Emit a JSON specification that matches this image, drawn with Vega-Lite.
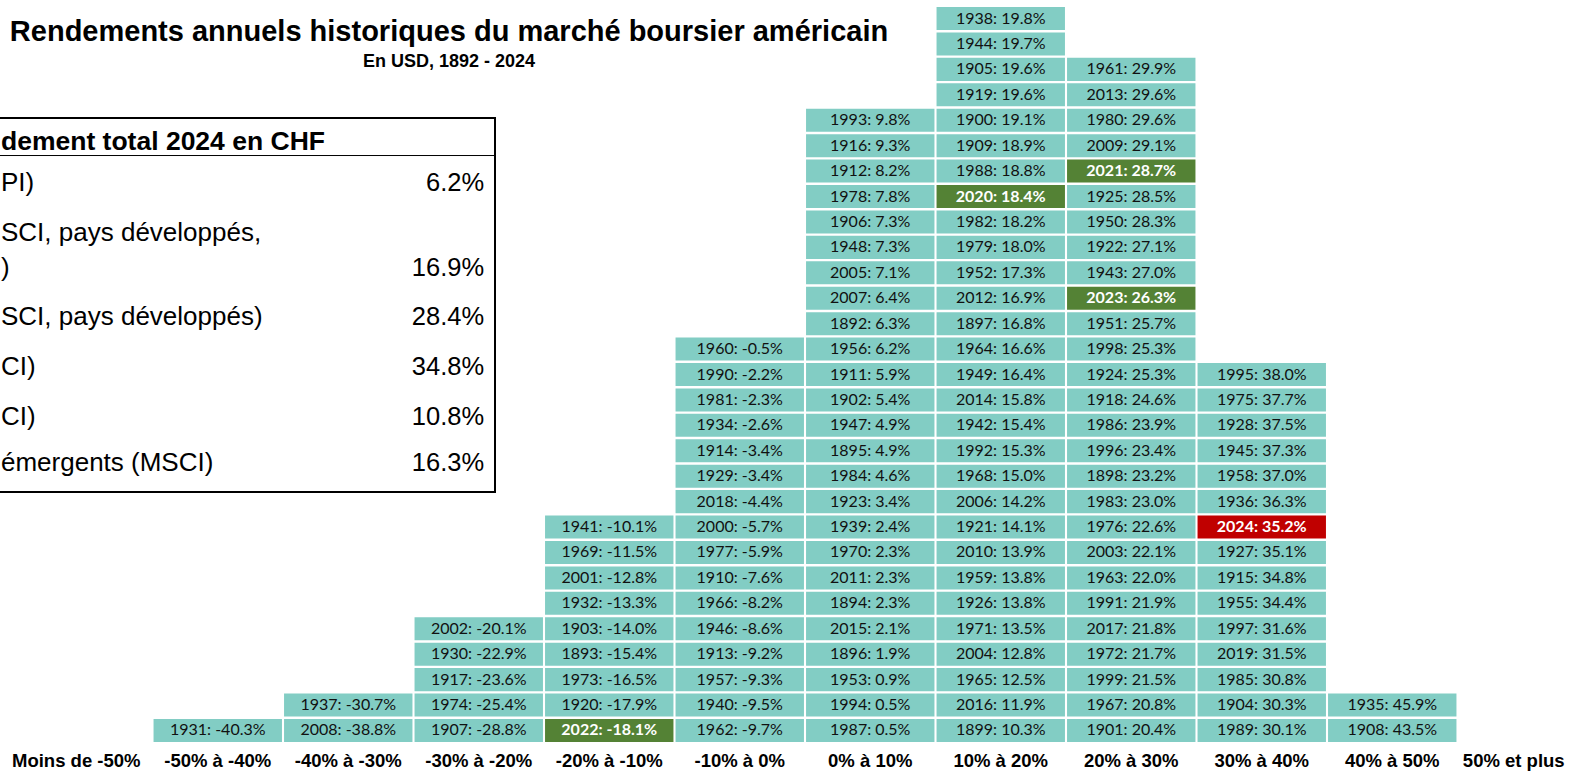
{
  "$schema": "https://vega.github.io/schema/vega-lite/v6.json",
  "width": 1572,
  "height": 771,
  "padding": 0,
  "autosize": "none",
  "background": "white",
  "config": {"view": {"stroke": null}},
  "title": {
    "text": "Rendements annuels historiques du marché boursier américain",
    "subtitle": "En USD, 1892 - 2024",
    "anchor": "middle",
    "frame": "group",
    "dx": -337,
    "offset": -71,
    "font": "Liberation Sans",
    "fontSize": 29,
    "fontWeight": "bold",
    "color": "#000000",
    "subtitleFont": "Liberation Sans",
    "subtitleFontSize": 18,
    "subtitleFontWeight": "bold",
    "subtitleColor": "#000000",
    "subtitlePadding": 6
  },
  "layer": [
    {
      "data": {
        "values": [
          {"annee": 1931, "rendement": -40.3, "classe": "-50% à -40%"},
          {"annee": 2008, "rendement": -38.8, "classe": "-40% à -30%"},
          {"annee": 1937, "rendement": -30.7, "classe": "-40% à -30%"},
          {"annee": 1907, "rendement": -28.8, "classe": "-30% à -20%"},
          {"annee": 1974, "rendement": -25.4, "classe": "-30% à -20%"},
          {"annee": 1917, "rendement": -23.6, "classe": "-30% à -20%"},
          {"annee": 1930, "rendement": -22.9, "classe": "-30% à -20%"},
          {"annee": 2002, "rendement": -20.1, "classe": "-30% à -20%"},
          {"annee": 2022, "rendement": -18.1, "classe": "-20% à -10%"},
          {"annee": 1920, "rendement": -17.9, "classe": "-20% à -10%"},
          {"annee": 1973, "rendement": -16.5, "classe": "-20% à -10%"},
          {"annee": 1893, "rendement": -15.4, "classe": "-20% à -10%"},
          {"annee": 1903, "rendement": -14.0, "classe": "-20% à -10%"},
          {"annee": 1932, "rendement": -13.3, "classe": "-20% à -10%"},
          {"annee": 2001, "rendement": -12.8, "classe": "-20% à -10%"},
          {"annee": 1969, "rendement": -11.5, "classe": "-20% à -10%"},
          {"annee": 1941, "rendement": -10.1, "classe": "-20% à -10%"},
          {"annee": 1962, "rendement": -9.7, "classe": "-10% à 0%"},
          {"annee": 1940, "rendement": -9.5, "classe": "-10% à 0%"},
          {"annee": 1957, "rendement": -9.3, "classe": "-10% à 0%"},
          {"annee": 1913, "rendement": -9.2, "classe": "-10% à 0%"},
          {"annee": 1946, "rendement": -8.6, "classe": "-10% à 0%"},
          {"annee": 1966, "rendement": -8.2, "classe": "-10% à 0%"},
          {"annee": 1910, "rendement": -7.6, "classe": "-10% à 0%"},
          {"annee": 1977, "rendement": -5.9, "classe": "-10% à 0%"},
          {"annee": 2000, "rendement": -5.7, "classe": "-10% à 0%"},
          {"annee": 2018, "rendement": -4.4, "classe": "-10% à 0%"},
          {"annee": 1929, "rendement": -3.4, "classe": "-10% à 0%"},
          {"annee": 1914, "rendement": -3.4, "classe": "-10% à 0%"},
          {"annee": 1934, "rendement": -2.6, "classe": "-10% à 0%"},
          {"annee": 1981, "rendement": -2.3, "classe": "-10% à 0%"},
          {"annee": 1990, "rendement": -2.2, "classe": "-10% à 0%"},
          {"annee": 1960, "rendement": -0.5, "classe": "-10% à 0%"},
          {"annee": 1987, "rendement": 0.5, "classe": "0% à 10%"},
          {"annee": 1994, "rendement": 0.5, "classe": "0% à 10%"},
          {"annee": 1953, "rendement": 0.9, "classe": "0% à 10%"},
          {"annee": 1896, "rendement": 1.9, "classe": "0% à 10%"},
          {"annee": 2015, "rendement": 2.1, "classe": "0% à 10%"},
          {"annee": 1894, "rendement": 2.3, "classe": "0% à 10%"},
          {"annee": 2011, "rendement": 2.3, "classe": "0% à 10%"},
          {"annee": 1970, "rendement": 2.3, "classe": "0% à 10%"},
          {"annee": 1939, "rendement": 2.4, "classe": "0% à 10%"},
          {"annee": 1923, "rendement": 3.4, "classe": "0% à 10%"},
          {"annee": 1984, "rendement": 4.6, "classe": "0% à 10%"},
          {"annee": 1895, "rendement": 4.9, "classe": "0% à 10%"},
          {"annee": 1947, "rendement": 4.9, "classe": "0% à 10%"},
          {"annee": 1902, "rendement": 5.4, "classe": "0% à 10%"},
          {"annee": 1911, "rendement": 5.9, "classe": "0% à 10%"},
          {"annee": 1956, "rendement": 6.2, "classe": "0% à 10%"},
          {"annee": 1892, "rendement": 6.3, "classe": "0% à 10%"},
          {"annee": 2007, "rendement": 6.4, "classe": "0% à 10%"},
          {"annee": 2005, "rendement": 7.1, "classe": "0% à 10%"},
          {"annee": 1948, "rendement": 7.3, "classe": "0% à 10%"},
          {"annee": 1906, "rendement": 7.3, "classe": "0% à 10%"},
          {"annee": 1978, "rendement": 7.8, "classe": "0% à 10%"},
          {"annee": 1912, "rendement": 8.2, "classe": "0% à 10%"},
          {"annee": 1916, "rendement": 9.3, "classe": "0% à 10%"},
          {"annee": 1993, "rendement": 9.8, "classe": "0% à 10%"},
          {"annee": 1899, "rendement": 10.3, "classe": "10% à 20%"},
          {"annee": 2016, "rendement": 11.9, "classe": "10% à 20%"},
          {"annee": 1965, "rendement": 12.5, "classe": "10% à 20%"},
          {"annee": 2004, "rendement": 12.8, "classe": "10% à 20%"},
          {"annee": 1971, "rendement": 13.5, "classe": "10% à 20%"},
          {"annee": 1926, "rendement": 13.8, "classe": "10% à 20%"},
          {"annee": 1959, "rendement": 13.8, "classe": "10% à 20%"},
          {"annee": 2010, "rendement": 13.9, "classe": "10% à 20%"},
          {"annee": 1921, "rendement": 14.1, "classe": "10% à 20%"},
          {"annee": 2006, "rendement": 14.2, "classe": "10% à 20%"},
          {"annee": 1968, "rendement": 15.0, "classe": "10% à 20%"},
          {"annee": 1992, "rendement": 15.3, "classe": "10% à 20%"},
          {"annee": 1942, "rendement": 15.4, "classe": "10% à 20%"},
          {"annee": 2014, "rendement": 15.8, "classe": "10% à 20%"},
          {"annee": 1949, "rendement": 16.4, "classe": "10% à 20%"},
          {"annee": 1964, "rendement": 16.6, "classe": "10% à 20%"},
          {"annee": 1897, "rendement": 16.8, "classe": "10% à 20%"},
          {"annee": 2012, "rendement": 16.9, "classe": "10% à 20%"},
          {"annee": 1952, "rendement": 17.3, "classe": "10% à 20%"},
          {"annee": 1979, "rendement": 18.0, "classe": "10% à 20%"},
          {"annee": 1982, "rendement": 18.2, "classe": "10% à 20%"},
          {"annee": 2020, "rendement": 18.4, "classe": "10% à 20%"},
          {"annee": 1988, "rendement": 18.8, "classe": "10% à 20%"},
          {"annee": 1909, "rendement": 18.9, "classe": "10% à 20%"},
          {"annee": 1900, "rendement": 19.1, "classe": "10% à 20%"},
          {"annee": 1919, "rendement": 19.6, "classe": "10% à 20%"},
          {"annee": 1905, "rendement": 19.6, "classe": "10% à 20%"},
          {"annee": 1944, "rendement": 19.7, "classe": "10% à 20%"},
          {"annee": 1938, "rendement": 19.8, "classe": "10% à 20%"},
          {"annee": 1901, "rendement": 20.4, "classe": "20% à 30%"},
          {"annee": 1967, "rendement": 20.8, "classe": "20% à 30%"},
          {"annee": 1999, "rendement": 21.5, "classe": "20% à 30%"},
          {"annee": 1972, "rendement": 21.7, "classe": "20% à 30%"},
          {"annee": 2017, "rendement": 21.8, "classe": "20% à 30%"},
          {"annee": 1991, "rendement": 21.9, "classe": "20% à 30%"},
          {"annee": 1963, "rendement": 22.0, "classe": "20% à 30%"},
          {"annee": 2003, "rendement": 22.1, "classe": "20% à 30%"},
          {"annee": 1976, "rendement": 22.6, "classe": "20% à 30%"},
          {"annee": 1983, "rendement": 23.0, "classe": "20% à 30%"},
          {"annee": 1898, "rendement": 23.2, "classe": "20% à 30%"},
          {"annee": 1996, "rendement": 23.4, "classe": "20% à 30%"},
          {"annee": 1986, "rendement": 23.9, "classe": "20% à 30%"},
          {"annee": 1918, "rendement": 24.6, "classe": "20% à 30%"},
          {"annee": 1924, "rendement": 25.3, "classe": "20% à 30%"},
          {"annee": 1998, "rendement": 25.3, "classe": "20% à 30%"},
          {"annee": 1951, "rendement": 25.7, "classe": "20% à 30%"},
          {"annee": 2023, "rendement": 26.3, "classe": "20% à 30%"},
          {"annee": 1943, "rendement": 27.0, "classe": "20% à 30%"},
          {"annee": 1922, "rendement": 27.1, "classe": "20% à 30%"},
          {"annee": 1950, "rendement": 28.3, "classe": "20% à 30%"},
          {"annee": 1925, "rendement": 28.5, "classe": "20% à 30%"},
          {"annee": 2021, "rendement": 28.7, "classe": "20% à 30%"},
          {"annee": 2009, "rendement": 29.1, "classe": "20% à 30%"},
          {"annee": 1980, "rendement": 29.6, "classe": "20% à 30%"},
          {"annee": 2013, "rendement": 29.6, "classe": "20% à 30%"},
          {"annee": 1961, "rendement": 29.9, "classe": "20% à 30%"},
          {"annee": 1989, "rendement": 30.1, "classe": "30% à 40%"},
          {"annee": 1904, "rendement": 30.3, "classe": "30% à 40%"},
          {"annee": 1985, "rendement": 30.8, "classe": "30% à 40%"},
          {"annee": 2019, "rendement": 31.5, "classe": "30% à 40%"},
          {"annee": 1997, "rendement": 31.6, "classe": "30% à 40%"},
          {"annee": 1955, "rendement": 34.4, "classe": "30% à 40%"},
          {"annee": 1915, "rendement": 34.8, "classe": "30% à 40%"},
          {"annee": 1927, "rendement": 35.1, "classe": "30% à 40%"},
          {"annee": 2024, "rendement": 35.2, "classe": "30% à 40%"},
          {"annee": 1936, "rendement": 36.3, "classe": "30% à 40%"},
          {"annee": 1958, "rendement": 37.0, "classe": "30% à 40%"},
          {"annee": 1945, "rendement": 37.3, "classe": "30% à 40%"},
          {"annee": 1928, "rendement": 37.5, "classe": "30% à 40%"},
          {"annee": 1975, "rendement": 37.7, "classe": "30% à 40%"},
          {"annee": 1995, "rendement": 38.0, "classe": "30% à 40%"},
          {"annee": 1908, "rendement": 43.5, "classe": "40% à 50%"},
          {"annee": 1935, "rendement": 45.9, "classe": "40% à 50%"}
        ]
      },
      "transform": [
        {
          "window": [{"op": "row_number", "as": "rang"}],
          "groupby": ["classe"],
          "sort": [{"field": "rendement", "order": "ascending"}]
        }
      ],
      "encoding": {
        "x": {
          "field": "classe",
          "type": "nominal",
          "scale": {
            "domain": ["Moins de -50%", "-50% à -40%", "-40% à -30%", "-30% à -20%", "-20% à -10%", "-10% à 0%", "0% à 10%", "10% à 20%", "20% à 30%", "30% à 40%", "40% à 50%", "50% et plus"],
            "range": [22, 1588],
            "paddingInner": 0.016,
            "paddingOuter": 0.008
          },
          "axis": {
            "title": null,
            "domain": false,
            "ticks": false,
            "offset": -26,
            "labelAngle": 0,
            "labelOverlap": false,
            "labelFont": "Liberation Sans",
            "labelFontSize": 18.5,
            "labelFontWeight": "bold",
            "labelColor": "#000000",
            "labelBaseline": "alphabetic",
            "labelPadding": 21,
            "labelOffset": {
              "condition": [
                {"test": "datum.value === 'Moins de -50%'", "value": -11},
                {"test": "datum.value === '50% et plus'", "value": -9}
              ],
              "value": 0
            }
          }
        },
        "y": {
          "field": "rang",
          "type": "ordinal",
          "scale": {
            "domain": [1, 2, 3, 4, 5, 6, 7, 8, 9, 10, 11, 12, 13, 14, 15, 16, 17, 18, 19, 20, 21, 22, 23, 24, 25, 26, 27, 28, 29],
            "range": [743.2, 5.8],
            "paddingInner": 0.094,
            "paddingOuter": 0.047
          },
          "axis": null
        }
      },
      "layer": [
        {
          "mark": {"type": "rect"},
          "encoding": {
            "color": {
              "condition": [
                {"test": "datum.annee === 2024", "value": "#c00000"},
                {"test": "datum.annee >= 2020", "value": "#548235"}
              ],
              "value": "#82cdc4"
            }
          }
        },
        {
          "transform": [{"filter": "datum.annee < 2020"}],
          "mark": {
            "type": "text",
            "font": "Lato",
            "fontSize": 16,
            "color": "#111111",
            "text": {"expr": "datum.annee + ': ' + replace(format(datum.rendement, '.1f'), '\u2212', '-') + '%'"}
          }
        },
        {
          "transform": [{"filter": "datum.annee >= 2020"}],
          "mark": {
            "type": "text",
            "font": "Lato",
            "fontSize": 16,
            "fontWeight": "bold",
            "color": "#ffffff",
            "text": {"expr": "datum.annee + ': ' + replace(format(datum.rendement, '.1f'), '\u2212', '-') + '%'"}
          }
        }
      ]
    },
    {
      "layer": [
        {
          "data": {"values": [{"cadre": "tableau"}]},
          "mark": {"type": "rect", "filled": false, "stroke": "#000000", "strokeWidth": 2},
          "encoding": {
            "x": {"datum": -0.05, "type": "quantitative", "scale": {"domain": [0, 1], "range": [0, 495], "nice": false, "zero": false}, "axis": null},
            "x2": {"datum": 1},
            "y": {"datum": -0.585, "type": "quantitative", "scale": {"domain": [0, 1, 2, 3, 4, 5, 6, 7], "range": [142, 183, 233, 268, 317, 367, 417, 463], "nice": false, "zero": false}, "axis": null},
            "y2": {"datum": 7.63}
          }
        },
        {
          "data": {"values": [{"cadre": "entete"}]},
          "mark": {"type": "rule", "stroke": "#000000", "strokeWidth": 1},
          "encoding": {
            "x": {"datum": -0.05, "type": "quantitative"},
            "x2": {"datum": 1},
            "y": {"datum": 0.33, "type": "quantitative"}
          }
        },
        {
          "data": {"values": [{"ligne": 0, "libelle": "dement total 2024 en CHF"}]},
          "mark": {"type": "text", "align": "left", "baseline": "middle", "font": "Liberation Sans", "fontSize": 26.5, "fontWeight": "bold", "color": "#000000"},
          "encoding": {
            "x": {"datum": 0.002, "type": "quantitative"},
            "y": {"field": "ligne", "type": "quantitative"},
            "text": {"field": "libelle"}
          }
        },
        {
          "data": {
            "values": [
              {"ligne": 1, "libelle": "PI)", "valeur": "6.2%"},
              {"ligne": 2, "libelle": "SCI, pays développés,", "valeur": ""},
              {"ligne": 3, "libelle": ")", "valeur": "16.9%"},
              {"ligne": 4, "libelle": "SCI, pays développés)", "valeur": "28.4%"},
              {"ligne": 5, "libelle": "CI)", "valeur": "34.8%"},
              {"ligne": 6, "libelle": "CI)", "valeur": "10.8%"},
              {"ligne": 7, "libelle": "émergents (MSCI)", "valeur": "16.3%"}
            ]
          },
          "encoding": {
            "y": {"field": "ligne", "type": "quantitative"}
          },
          "layer": [
            {
              "mark": {"type": "text", "align": "left", "baseline": "middle", "font": "Liberation Sans", "fontSize": 26, "color": "#000000"},
              "encoding": {
                "x": {"datum": 0.002, "type": "quantitative"},
                "text": {"field": "libelle"}
              }
            },
            {
              "mark": {"type": "text", "align": "right", "baseline": "middle", "font": "Liberation Sans", "fontSize": 25.5, "color": "#000000"},
              "encoding": {
                "x": {"datum": 0.978, "type": "quantitative"},
                "text": {"field": "valeur"}
              }
            }
          ]
        }
      ]
    }
  ],
  "resolve": {"scale": {"x": "independent", "y": "independent"}}
}
